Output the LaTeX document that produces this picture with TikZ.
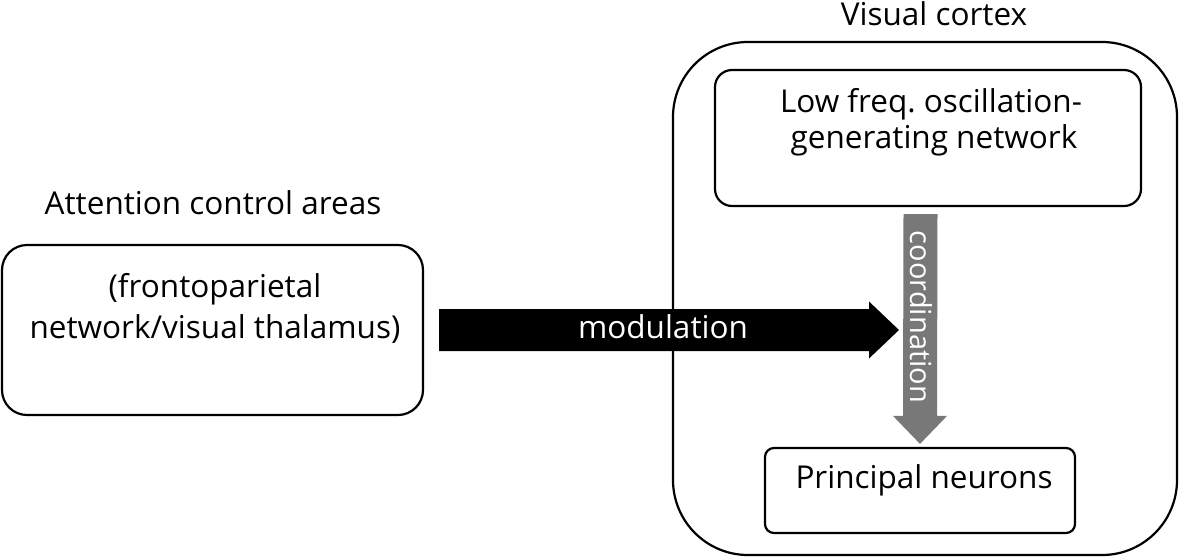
\documentclass[tikz,border=0pt]{standalone}
\usepackage{fontspec}
\setmainfont{Open Sans}
\usetikzlibrary{calc}
\tikzset{
  box/.style={draw=black, line width=2.2pt, fill=none, inner sep=0pt},
  lbl/.style={inner sep=0pt, anchor=base, text=black},
  wlbl/.style={inner sep=0pt, text=white},
}
\begin{document}
\begin{tikzpicture}[x=1pt,y=-1pt,font=\fontsize{31.5}{41}\selectfont]
\useasboundingbox (0,0) rectangle (1181,558);
% left box
\node[box, rounded corners=25pt, minimum width=421pt, minimum height=170pt] (att) at (212.5,330) {};
\node[lbl] (atttitle) at (213,214) {Attention control areas};
\node[lbl] (atttext1) at (215,297) {(frontoparietal};
\node[lbl] (atttext2) at (215,338) {network/visual thalamus)};
% outer box
\node[box, rounded corners=75pt, minimum width=504pt, minimum height=513pt] (vc) at (925,298.5) {};
\node[lbl] (vctitle) at (934,25) {Visual cortex};
% top inner box
\node[box, rounded corners=17pt, minimum width=426pt, minimum height=136pt] (osc) at (928,138) {};
\node[lbl] (osctext1) at (931,112) {Low freq.\ oscillation-};
\node[lbl] (osctext2) at (934,148.5) {generating network};
% bottom box
\node[box, rounded corners=9pt, minimum width=310pt, minimum height=85pt] (pn) at (920,490.5) {};
\node[lbl] (pntext) at (924,488) {Principal neurons};
% coordination arrow (gray)
\coordinate (cstart) at ($(osc.south)+(-7.5,7)$);
\coordinate (ctip) at ($(pn.north)+(0,-3)$);
\fill[black!53] ($(cstart)+(-17,0)$) -- ($(cstart)+(17,0)$) -- ($(ctip)+(17,-28)$) -- ($(ctip)+(27,-28)$) -- (ctip) -- ($(ctip)+(-27,-28)$) -- ($(ctip)+(-17,-28)$) -- cycle;
\node[wlbl, rotate=-90, font=\fontsize{29}{36}\selectfont] (coordlbl) at (921,317) {coordination};
% modulation arrow (black)
\coordinate (mstart) at ($(att.east)+(15,0)$);
\coordinate (mtip) at (899,330);
\fill[black] ($(mstart)+(0,-21)$) -- ($(mtip)+(-30,-21)$) -- ($(mtip)+(-30,-28.5)$) -- (mtip) -- ($(mtip)+(-30,28.5)$) -- ($(mtip)+(-30,21)$) -- ($(mstart)+(0,21)$) -- cycle;
\node[wlbl, anchor=base] (modlbl) at (663,338) {modulation};
\end{tikzpicture}
\end{document}
